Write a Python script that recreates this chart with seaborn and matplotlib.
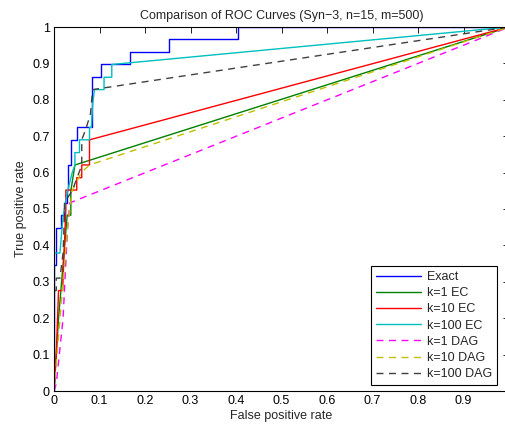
"""ROC curve comparison (Syn-3, n=15, m=500): exact vs k-best EC / DAG."""
import matplotlib
matplotlib.use("Agg")
import matplotlib.pyplot as plt
import numpy as np
import pandas as pd
import seaborn as sns
from matplotlib.ticker import FormatStrFormatter, MultipleLocator

# --- data ------------------------------------------------------------------ #
exact_fpr = [0, 0, 0.004, 0.004, 0.015, 0.015, 0.021, 0.021, 0.028, 0.028,
             0.031, 0.031, 0.037, 0.037, 0.051, 0.051, 0.083, 0.083, 0.103,
             0.103, 0.168, 0.168, 0.253, 0.253, 0.405, 0.405, 1.0]
exact_tpr = [0, 0.345, 0.345, 0.448, 0.448, 0.483, 0.483, 0.517, 0.517,
             0.552, 0.552, 0.621, 0.621, 0.690, 0.690, 0.724, 0.724, 0.862,
             0.862, 0.897, 0.897, 0.931, 0.931, 0.966, 0.966, 1.0, 1.0]

k1_ec_fpr = [0, 0.010, 0.029, 0.037, 0.037, 0.046, 1.0]
k1_ec_tpr = [0, 0.200, 0.483, 0.483, 0.550, 0.621, 1.0]

k10_ec_fpr = [0, 0.005, 0.010, 0.019, 0.026, 0.026, 0.050, 0.050, 0.061,
              0.061, 0.078, 0.078, 1.0]
k10_ec_tpr = [0, 0.100, 0.276, 0.276, 0.500, 0.552, 0.552, 0.586, 0.586,
              0.621, 0.621, 0.690, 1.0]

k100_ec_fpr = [0, 0, 0.013, 0.020, 0.030, 0.040, 0.046, 0.046, 0.056, 0.056,
               0.078, 0.078, 0.082, 0.085, 0.089, 0.110, 0.110, 0.127, 0.127,
               1.0]
k100_ec_tpr = [0, 0.379, 0.379, 0.480, 0.550, 0.600, 0.621, 0.655, 0.655,
               0.690, 0.690, 0.724, 0.724, 0.790, 0.828, 0.828, 0.862, 0.862,
               0.897, 1.0]

k1_dag_fpr = [0, 0.005, 0.020, 0.025, 0.030, 0.035, 1.0]
k1_dag_tpr = [0, 0.020, 0.200, 0.330, 0.450, 0.517, 1.0]

k10_dag_fpr = [0, 0.010, 0.020, 0.030, 0.040, 0.060, 0.078, 1.0]
k10_dag_tpr = [0, 0.150, 0.300, 0.450, 0.550, 0.600, 0.621, 1.0]

k100_dag_fpr = [0, 0, 0.005, 0.005, 0.013, 0.020, 0.024, 0.040, 0.061,
                0.061, 0.070, 0.080, 0.085, 1.0]
k100_dag_tpr = [0, 0.276, 0.276, 0.310, 0.310, 0.380, 0.520, 0.550, 0.620,
                0.690, 0.720, 0.760, 0.828, 1.0]

LABELS = ["Exact", "k=1 EC", "k=10 EC", "k=100 EC",
          "k=1 DAG", "k=10 DAG", "k=100 DAG"]
CURVES = [(exact_fpr, exact_tpr), (k1_ec_fpr, k1_ec_tpr),
          (k10_ec_fpr, k10_ec_tpr), (k100_ec_fpr, k100_ec_tpr),
          (k1_dag_fpr, k1_dag_tpr), (k10_dag_fpr, k10_dag_tpr),
          (k100_dag_fpr, k100_dag_tpr)]
COLORS = ["#0000ff", "#008000", "#ff0000", "#00bfbf",
          "#ff00ff", "#bfbf00", "#404040"]
DASHED = [False, False, False, False, True, True, True]

# --- style ----------------------------------------------------------------- #
sns.set_theme(style="white")
plt.rcParams.update({
    "font.family": ["Liberation Sans", "DejaVu Sans"],
    "font.size": 9,
    "xtick.direction": "in",
    "ytick.direction": "in",
    "xtick.top": True,
    "ytick.right": True,
    "xtick.major.size": 4,
    "ytick.major.size": 4,
    "xtick.major.width": 0.6,
    "ytick.major.width": 0.6,
    "axes.linewidth": 0.8,
    "axes.edgecolor": "black",
})

fig = plt.figure(figsize=(5.05, 4.30), dpi=100)
ax = fig.add_axes([54 / 505, 39 / 430, 455 / 505, 364 / 430])

for label, (fpr, tpr), color, dashed in zip(LABELS, CURVES, COLORS, DASHED):
    df = pd.DataFrame({"fpr": fpr, "tpr": tpr})
    sns.lineplot(data=df, x="fpr", y="tpr", sort=False, estimator=None,
                 color=color, lw=1.0, ax=ax, label=label,
                 linestyle=(0, (5, 4)) if dashed else "-")

ax.set_xlim(0, 1)
ax.set_ylim(0, 1)
ax.xaxis.set_major_locator(MultipleLocator(0.1))
ax.yaxis.set_major_locator(MultipleLocator(0.1))
ax.xaxis.set_major_formatter(FormatStrFormatter("%g"))
ax.yaxis.set_major_formatter(FormatStrFormatter("%g"))
ax.set_xticks(np.arange(0, 0.95, 0.1))
ax.tick_params(labelsize=9, colors="black", pad=3)
for s in ax.spines.values():
    s.set_color("black")

ax.set_xlabel("False positive rate", fontsize=9, labelpad=2)
ax.set_ylabel("True positive rate", fontsize=9, labelpad=4)
ax.set_title("Comparison of ROC Curves (Syn\u22123, n=15, m=500)",
             fontsize=9, pad=6)

leg = ax.legend(loc="lower right", bbox_to_anchor=(497 / 505, 45 / 430),
                bbox_transform=fig.transFigure, borderaxespad=0,
                fancybox=False, edgecolor="black", framealpha=1,
                fontsize=9, handlelength=3.6, labelspacing=0.33,
                borderpad=0.4, handletextpad=0.5)
leg.get_frame().set_linewidth(0.8)

fig.savefig("out.png", dpi=100)
